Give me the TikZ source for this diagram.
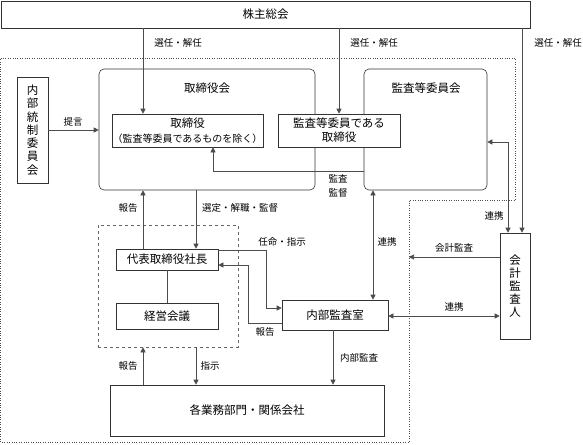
\documentclass[tikz,border=0pt]{standalone}
\usepackage{fontspec}
\setmainfont{Noto Sans CJK JP}
\usepackage{tikz}
\usetikzlibrary{arrows.meta, positioning, calc}

\tikzset{
  box/.style={draw=black!80, line width=0.6pt, fill=white, inner sep=0pt, align=center, font=\fontsize{11.5}{14}\selectfont},
  rbox/.style={box, rounded corners=5pt},
  lbl/.style={inner sep=0pt, align=center, font=\fontsize{9.5}{14}\selectfont},
  link/.style={draw=black!70, line width=0.6pt},
  arr/.style={link, -{Triangle[length=5pt,width=5pt]}},
  darr/.style={link, {Triangle[length=5pt,width=5pt]}-{Triangle[length=5pt,width=5pt]}},
}

\begin{document}
\begin{tikzpicture}[x=1pt, y=-1pt]
    \useasboundingbox (0,0) rectangle (583,444);
    %draws the company area (dotted)
    \draw[dotted, black!70] (0.5,58) -- (515,58) -- (515,200) -- (409,200) -- (409,442) -- (0.5,442) -- cycle;
    \coordinate (b1) at (409,0);%left edge of the dotted step
    %draws the boxes
    \node[box, minimum width=529pt, minimum height=27pt] (kabu) at (265.5,14.5) {株主総会};
    \node[rbox, minimum width=216pt, minimum height=121pt] (tkai) at (207,129.5) {};
    \node[lbl, font=\fontsize{11.5}{14}\selectfont] (tkaititle) at (207,88) {取締役会};
    \node[rbox, minimum width=123pt, minimum height=121pt] (kkai) at (425.5,129.5) {};
    \node[lbl, font=\fontsize{11.5}{14}\selectfont] (kkaititle) at (426,88) {監査等委員会};
    \node[box, minimum width=151pt, minimum height=33pt, font=\fontsize{11.5}{15}\selectfont] (tori) at (187.5,130.5) {取締役\\{\fontsize{10}{12}\selectfont （監査等委員であるものを除く）}};
    \node[box, minimum width=122pt, minimum height=33pt] (ktori) at (339,130.5) {監査等委員である\\取締役};
    \node[box, minimum width=31pt, minimum height=106pt, font=\fontsize{11.5}{13.3}\selectfont] (naibu) at (32.5,130) {内\\部\\統\\制\\委\\員\\会};
    \node[draw=black!60, dashed, line width=0.6pt, minimum width=140pt, minimum height=122pt, inner sep=0pt] (grp) at (168,286) {};
    \node[box, minimum width=102pt, minimum height=21pt] (daihyo) at (167,259.5) {代表取締役社長};
    \node[box, minimum width=102pt, minimum height=26pt, below=33pt of daihyo] (keiei) {経営会議};
    \node[box, minimum width=106pt, minimum height=30pt] (kansa) at (335,315) {内部監査室};
    \node[box, minimum width=30pt, minimum height=106pt, font=\fontsize{11.5}{13}\selectfont] (kaikei) at (515,286) {会\\計\\監\\査\\人};
    \node[box, minimum width=274pt, minimum height=51pt] (gyomu) at (247,410.5) {各業務部門・関係会社};
    %x and y of the connectors
    \coordinate (c1) at (143,0);
    \coordinate (c2) at (196,0);
    \coordinate (c3) at (213,0);
    \coordinate (c4) at (373,0);
    \coordinate (c5) at (508,0);
    \coordinate (c6) at (522,0);
    \coordinate (c7) at (333,0);
    \coordinate (e1) at (266,0);
    \coordinate (e2) at (248,0);
    \coordinate (d1) at (0,142);
    \coordinate (d2) at (0,171);
    \coordinate (d3) at (0,250);
    \coordinate (d4) at (0,265);
    \coordinate (d5) at (0,308);
    \coordinate (d6) at (0,323);
    \coordinate (d7) at (0,257);
    \coordinate (d8) at (0,316);
    %draws the connectors
    \draw[arr] (kabu.south -| c1) -- (tori.north -| c1);
    \draw[arr] (kabu.south -| ktori.north) -- (ktori.north);
    \draw[arr] (kabu.south -| c6) -- (kaikei.north -| c6);
    \draw[darr] (kkai.east |- d1) -| (kaikei.north -| c5);
    \draw[arr] (kaikei.west |- d7) -- (b1 |- d7);
    \draw[darr] (kansa.east |- d8) -- (kaikei.west |- d8);
    \draw[darr] (kkai.south -| c4) -- (kansa.north -| c4);
    \draw[arr] (kkai.west |- d2) -| (tori.south -| c3);
    \draw[arr] (naibu.east) -- (tkai.west |- naibu.east);
    \draw[arr] (daihyo.north -| c1) -- (tkai.south -| c1);
    \draw[arr] (tkai.south -| c2) -- (daihyo.north -| c2);
    \draw[arr] (daihyo.east |- d3) -| (e1 |- d5) -- (kansa.west |- d5);
    \draw[arr] (kansa.west |- d6) -| (e2 |- d4) -- (daihyo.east |- d4);
    \draw[link] (daihyo) -- (keiei);
    \draw[arr] (gyomu.north -| c1) -- (grp.south -| c1);
    \draw[arr] (grp.south -| c2) -- (gyomu.north -| c2);
    \draw[arr] (kansa.south -| c7) -- (gyomu.north -| c7);
    %labels the connectors
    \node[lbl] (l1) at (178,43) {選任・解任};
    \node[lbl] (l2) at (374,43) {選任・解任};
    \node[lbl] (l3) at (558,43) {選任・解任};
    \node[lbl] (l4) at (73,122) {提言};
    \node[lbl] (l5) at (338,186) {監査\\監督};
    \node[lbl] (l6) at (128,208) {報告};
    \node[lbl] (l7) at (240,208) {選定・解職・監督};
    \node[lbl] (l8) at (282,242) {任命・指示};
    \node[lbl] (l9) at (387,242) {連携};
    \node[lbl] (l10) at (494,216) {連携};
    \node[lbl] (l11) at (454,248) {会計監査};
    \node[lbl] (l12) at (454,307) {連携};
    \node[lbl] (l13) at (265,332) {報告};
    \node[lbl] (l14) at (128,366) {報告};
    \node[lbl] (l15) at (210,366) {指示};
    \node[lbl] (l16) at (359,358) {内部監査};
\end{tikzpicture}
\end{document}
